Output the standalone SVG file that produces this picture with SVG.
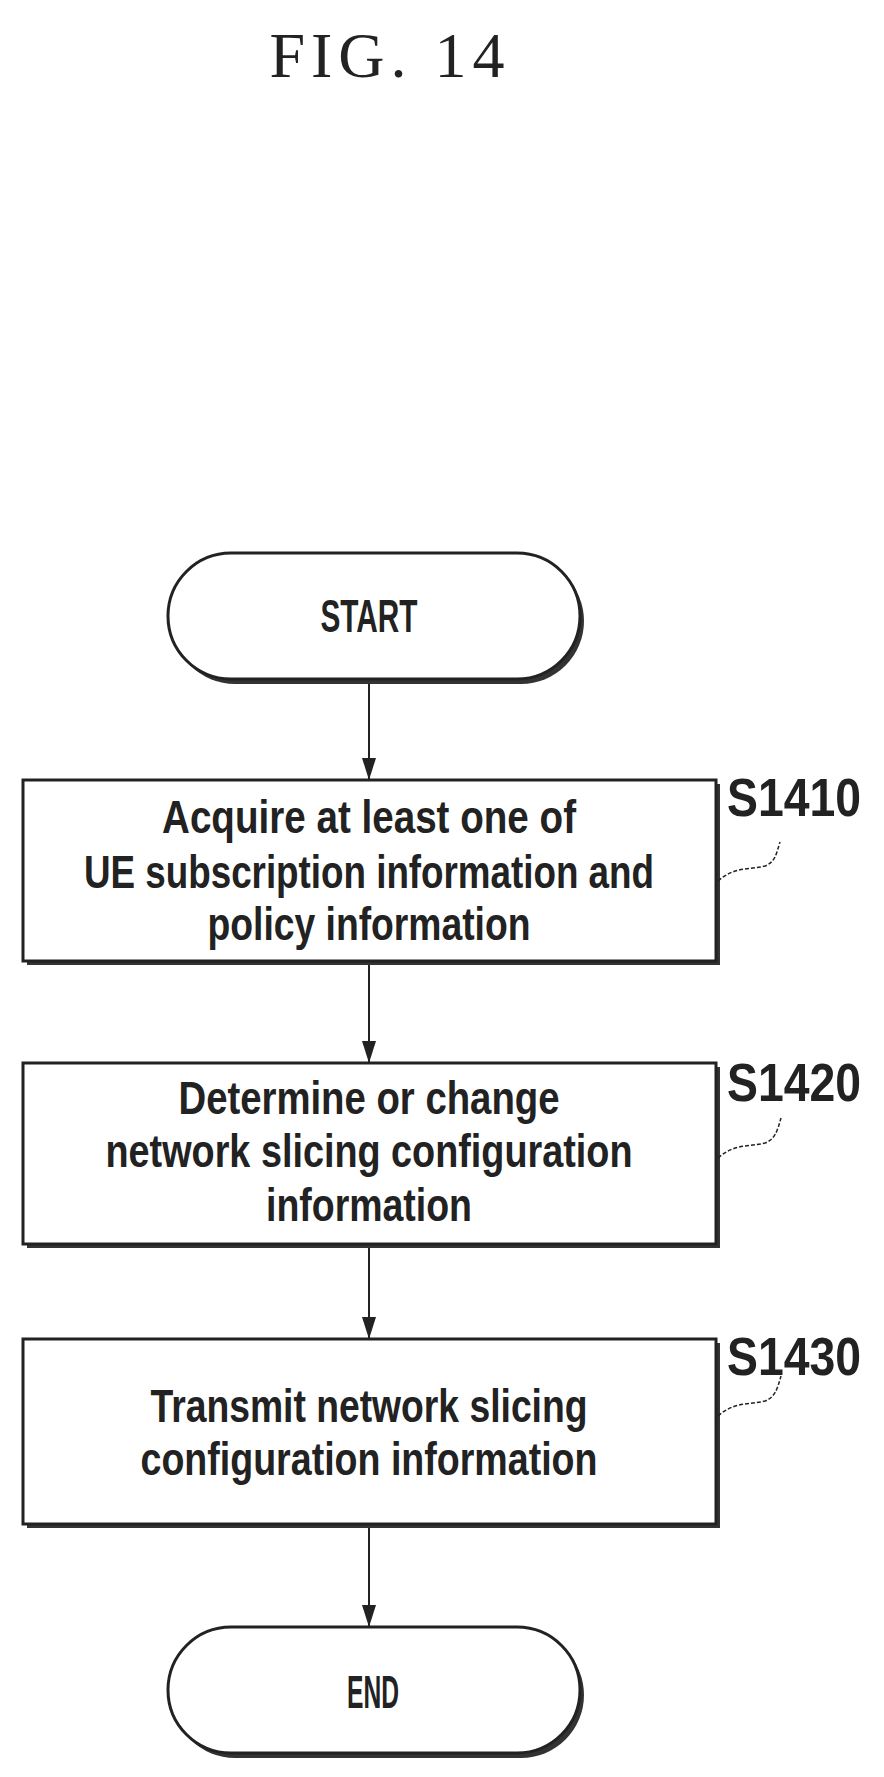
<svg xmlns="http://www.w3.org/2000/svg" width="884" height="1777" viewBox="0 0 884 1777">
<style>
.b{fill:#fff;stroke:#222;stroke-width:3}
.sh{fill:#333}
.t{font-family:"Liberation Sans",Arial,sans-serif;font-weight:bold;font-size:46px;fill:#222;text-anchor:middle}
.l{font-family:"Liberation Sans",Arial,sans-serif;font-weight:bold;font-size:54px;fill:#222}
.c{fill:none;stroke:#222;stroke-width:2}
.ld{fill:none;stroke:#222;stroke-width:1.5;stroke-dasharray:4 2}
</style>
<defs><marker id="a" markerWidth="22" markerHeight="14" refX="22" refY="7" orient="auto" markerUnits="userSpaceOnUse" viewBox="0 0 22 14"><path d="M0,0 L22,7 L0,14 Z" fill="#222"/></marker></defs>
<text x="390" y="77" font-family="Liberation Serif,serif" font-size="64" fill="#222" text-anchor="middle" letter-spacing="6">FIG. 14</text>
<g id="connectors">
<line class="c" x1="369" y1="681" x2="369" y2="780" marker-end="url(#a)"/>
<line class="c" x1="369" y1="963" x2="369" y2="1063" marker-end="url(#a)"/>
<line class="c" x1="369" y1="1246" x2="369" y2="1339" marker-end="url(#a)"/>
<line class="c" x1="369" y1="1526" x2="369" y2="1627" marker-end="url(#a)"/>
</g>
<g id="start">
<rect x="172" y="558" width="412" height="126" rx="63" class="sh"/>
<rect x="168" y="553" width="412" height="126" rx="63" class="b"/>
<text class="t" x="369" y="632" textLength="97" lengthAdjust="spacingAndGlyphs">START</text>
</g>
<g id="s1410">
<rect x="27" y="784" width="693" height="181" class="sh"/>
<rect x="23" y="780" width="693" height="181" class="b"/>
<text class="t" x="369" y="833" textLength="414" lengthAdjust="spacingAndGlyphs">Acquire at least one of</text>
<text class="t" x="369" y="888" textLength="570" lengthAdjust="spacingAndGlyphs">UE subscription information and</text>
<text class="t" x="369" y="940" textLength="323" lengthAdjust="spacingAndGlyphs">policy information</text>
<path class="ld" d="M718,881 C735,866 750,870 765,866 C775,862 776,855 780,842"/>
<text class="l" x="727" y="816" textLength="134" lengthAdjust="spacingAndGlyphs">S1410</text>
</g>
<g id="s1420">
<rect x="27" y="1067" width="693" height="181" class="sh"/>
<rect x="23" y="1063" width="693" height="181" class="b"/>
<text class="t" x="369" y="1114" textLength="381" lengthAdjust="spacingAndGlyphs">Determine or change</text>
<text class="t" x="369" y="1167" textLength="527" lengthAdjust="spacingAndGlyphs">network slicing configuration</text>
<text class="t" x="369" y="1221" textLength="206" lengthAdjust="spacingAndGlyphs">information</text>
<path class="ld" d="M718,1158 C735,1143 750,1147 765,1143 C775,1139 777,1132 781,1118"/>
<text class="l" x="727" y="1101" textLength="134" lengthAdjust="spacingAndGlyphs">S1420</text>
</g>
<g id="s1430">
<rect x="27" y="1343" width="693" height="185" class="sh"/>
<rect x="23" y="1339" width="693" height="185" class="b"/>
<text class="t" x="369" y="1422" textLength="437" lengthAdjust="spacingAndGlyphs">Transmit network slicing</text>
<text class="t" x="369" y="1475" textLength="457" lengthAdjust="spacingAndGlyphs">configuration information</text>
<path class="ld" d="M718,1416 C735,1401 750,1405 765,1401 C775,1397 777,1390 781,1376"/>
<text class="l" x="727" y="1375" textLength="134" lengthAdjust="spacingAndGlyphs">S1430</text>
</g>
<g id="end">
<rect x="172" y="1632" width="412" height="126" rx="63" class="sh"/>
<rect x="168" y="1627" width="412" height="126" rx="63" class="b"/>
<text class="t" x="373" y="1708" textLength="52" lengthAdjust="spacingAndGlyphs">END</text>
</g>
</svg>
